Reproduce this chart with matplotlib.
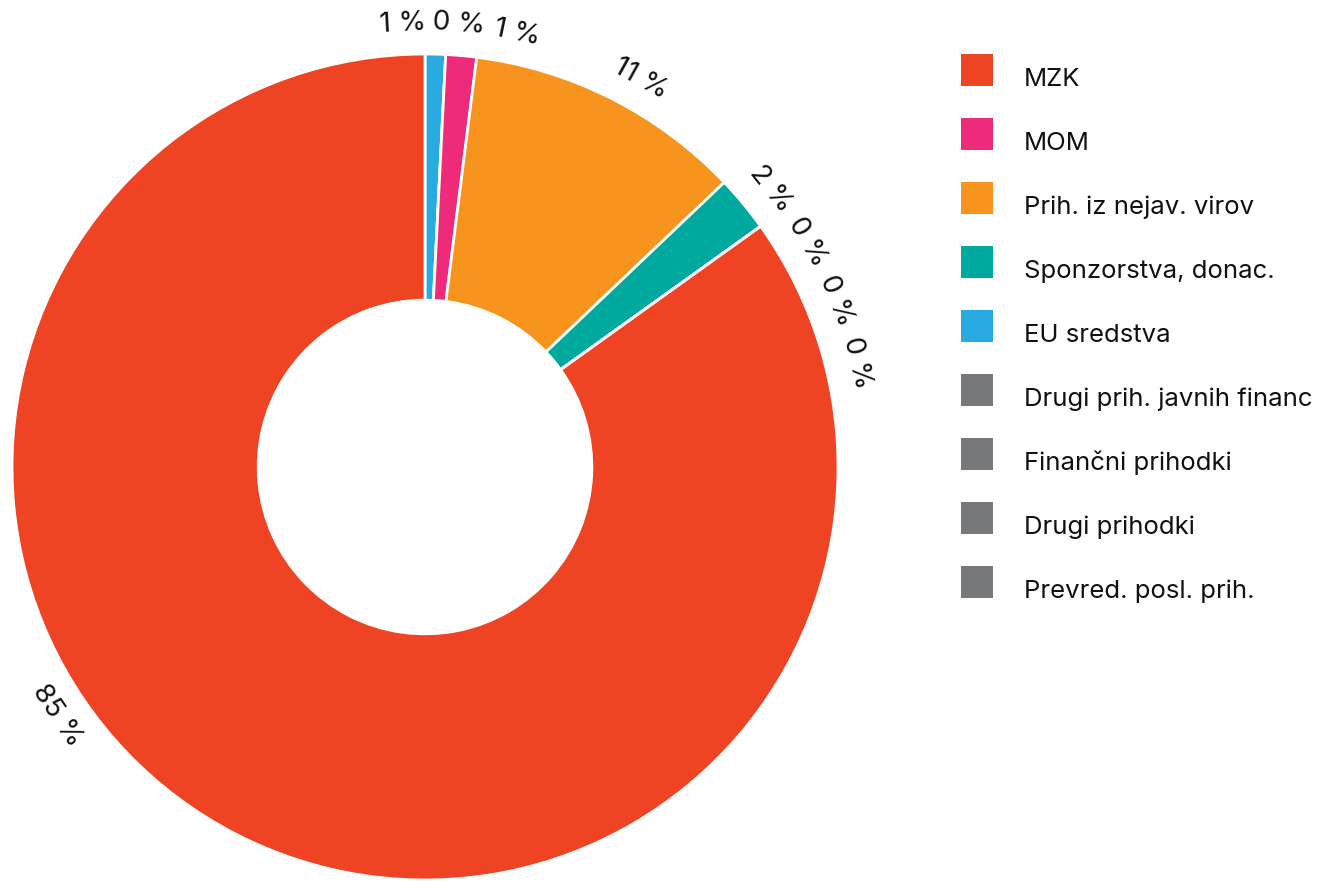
import numpy as np
import matplotlib
matplotlib.use("Agg")
import matplotlib.pyplot as plt
from matplotlib.patches import Rectangle

plt.rcParams['font.family'] = ['Inter', 'DejaVu Sans']

# legend order
legend_names = ["MZK", "MOM", "Prih. iz nejav. virov", "Sponzorstva, donac.",
                "EU sredstva", "Drugi prih. javnih financ", "Finančni prihodki",
                "Drugi prihodki", "Prevred. posl. prih."]
legend_colors = ["#EF4423", "#EE2A7B", "#F7941D", "#00A99D", "#29ABE2",
                 "#77787B", "#77787B", "#77787B", "#77787B"]

# slices in drawing order (clockwise from the top), share in %
slice_names = ["EU sredstva", "Drugi prih. javnih financ", "MOM",
               "Prih. iz nejav. virov", "Sponzorstva, donac.",
               "Finančni prihodki", "Drugi prihodki", "Prevred. posl. prih.", "MZK"]
slice_values = [0.8, 0.0, 1.2, 10.9, 2.2, 0.0, 0.0, 0.0, 84.9]
slice_labels = ["1 %", "0 %", "1 %", "11 %", "2 %", "0 %", "0 %", "0 %", "85 %"]

# where the labels sit around the ring (degrees, counterclockwise from +x)
label_angles = [92.8, 85.6, 78.0, 61.0, 38.8, 30.5, 22.0, 13.5, 214.0]

colors = dict(zip(legend_names, legend_colors))

fig = plt.figure(figsize=(13.28, 8.81), dpi=100)
W, H = 1328, 881
cx, cy, R = 425, 467, 413
ax = fig.add_axes([(cx - R) / W, (H - cy - R) / H, 2 * R / W, 2 * R / H])

ax.pie(slice_values, colors=[colors[n] for n in slice_names], startangle=90,
       counterclock=False, radius=1.0,
       wedgeprops=dict(width=0.596, edgecolor="white", linewidth=2))
ax.set_xlim(-1, 1)
ax.set_ylim(-1, 1)
ax.set_aspect("auto")
ax.axis("off")

r_lab = 1.075
for lab, a in zip(slice_labels, label_angles):
    t = np.deg2rad(a)
    rot = a - 90
    if rot < -90:
        rot += 180
    if rot > 90:
        rot -= 180
    ax.text(r_lab * np.cos(t), r_lab * np.sin(t), lab, rotation=rot,
            rotation_mode="anchor", ha="center", va="center", fontsize=20,
            color="#111111")

# legend drawn in pixel coordinates
lg = fig.add_axes([0, 0, 1, 1])
lg.set_xlim(0, W)
lg.set_ylim(H, 0)
lg.axis("off")
for i, (n, c) in enumerate(zip(legend_names, legend_colors)):
    top = 54 + 64 * i
    lg.add_patch(Rectangle((961, top), 32, 32, facecolor=c, edgecolor="none"))
    lg.text(1024, top + 32, n, ha="left", va="baseline", fontsize=18.5,
            color="#111111")

plt.savefig("out.png", dpi=100)
